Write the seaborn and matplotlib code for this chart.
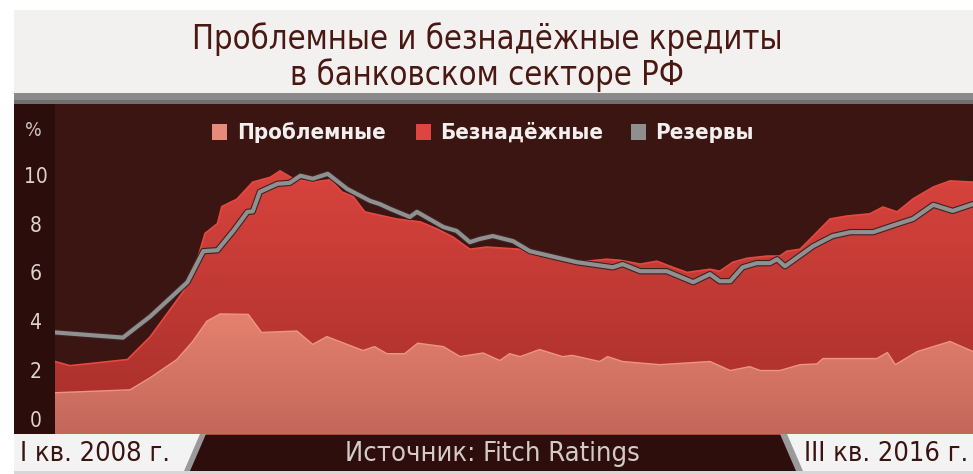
import numpy as np
import pandas as pd
import matplotlib
matplotlib.use("Agg")
import matplotlib.pyplot as plt
import seaborn as sns
from matplotlib import font_manager
from matplotlib.colors import LinearSegmentedColormap
from matplotlib.patches import Polygon, Rectangle
import matplotlib.patheffects as pe

# ---------------- data (months since January 2008) ----------------
prob_month = [0, 8.5, 10.8, 13.8, 15.6, 17.2, 18.7, 21.9, 23.4, 27.4,
              29.2, 30.8, 34.9, 36.2, 37.6, 39.6, 41.1, 44.0, 45.9, 48.5,
              50.4, 51.5, 52.7, 54.9, 57.5, 58.6, 61.7, 62.6, 64.3, 68.5,
              74.2, 76.5, 78.7, 79.9, 82.1, 84.4, 86.3, 87.0, 93.1, 94.3,
              95.2, 97.7, 101.4, 104]
prob_vals = [1.07, 1.19, 1.69, 2.43, 3.17, 4.0, 4.3, 4.28, 3.54, 3.6,
             3.05, 3.37, 2.8, 2.96, 2.67, 2.67, 3.1, 2.96, 2.55, 2.7,
             2.39, 2.67, 2.55, 2.84, 2.55, 2.6, 2.35, 2.55, 2.35, 2.22,
             2.35, 1.98, 2.14, 1.98, 1.98, 2.22, 2.25, 2.47, 2.47, 2.72,
             2.22, 2.76, 3.17, 2.76]

# total = проблемные + безнадёжные (top of the stacked area)
tot_month = [0, 1.7, 8.2, 10.8, 14.5, 16.1, 17.0, 18.4, 18.9, 20.6,
             22.4, 24.4, 25.5, 27.0, 29.2, 31.2, 32.5, 33.8, 35.1, 38.7,
             41.4, 43.3, 45.1, 47.0, 48.9, 52.7, 53.8, 59.1, 62.5, 64.0,
             66.3, 68.2, 70.0, 71.6, 74.2, 75.3, 76.8, 78.4, 80.7, 82.1,
             82.9, 84.4, 85.9, 87.8, 89.7, 92.3, 93.8, 95.4, 97.2, 99.5,
             101.4, 104]
tot_vals = [2.35, 2.18, 2.43, 3.37, 5.2, 6.5, 7.6, 8.0, 8.7, 9.0,
            9.7, 9.9, 10.16, 9.84, 9.7, 9.8, 9.3, 9.1, 8.48, 8.19,
            8.07, 7.78, 7.45, 6.95, 7.04, 6.95, 6.75, 6.42, 6.54, 6.5,
            6.34, 6.46, 6.21, 6.0, 6.13, 6.05, 6.42, 6.58, 6.67, 6.67,
            6.87, 6.95, 7.49, 8.19, 8.31, 8.4, 8.68, 8.48, 9.01, 9.5,
            9.75, 9.7]

res_month = [0, 7.7, 10.8, 15.0, 16.8, 18.4, 20.2, 21.8, 22.4, 23.2,
             25.2, 26.6, 27.8, 29.2, 30.9, 33.1, 35.7, 36.8, 38.0, 40.2,
             41.0, 44.0, 45.5, 47.0, 48.1, 49.6, 51.9, 53.8, 59.1, 63.2,
             64.3, 66.3, 69.3, 72.3, 74.2, 75.3, 76.5, 77.9, 79.5, 81.0,
             81.8, 82.7, 85.9, 88.1, 90.1, 92.7, 95.4, 97.2, 99.5, 101.7,
             104]
res_vals = [3.54, 3.33, 4.2, 5.6, 6.87, 6.91, 7.7, 8.48, 8.5, 9.3,
            9.63, 9.67, 9.96, 9.84, 10.04, 9.42, 8.93, 8.8, 8.6, 8.27,
            8.48, 7.86, 7.7, 7.24, 7.37, 7.49, 7.28, 6.87, 6.42, 6.21,
            6.34, 6.05, 6.05, 5.6, 5.93, 5.64, 5.64, 6.21, 6.38, 6.38,
            6.54, 6.25, 7.08, 7.49, 7.65, 7.65, 7.98, 8.19, 8.77, 8.52,
            8.8]

y_ticks = [0, 2, 4, 6, 8, 10]
legend_labels = ["Проблемные", "Безнадёжные", "Резервы"]
title_text = "Проблемные и безнадёжные кредиты\nв банковском секторе РФ"
left_label = "I кв. 2008 г."
right_label = "III кв. 2016 г."
source_text = "Источник: Fitch Ratings"

# ---------------- style ----------------
sns.set_theme(style="white")
names = {f.name for f in font_manager.fontManager.ttflist}
if "Liberation Sans Narrow" in names:
    FONT = ["Liberation Sans Narrow", "DejaVu Sans"]
    STRETCH = "normal"
else:
    FONT = ["DejaVu Sans"]
    STRETCH = "condensed"
plt.rcParams["font.family"] = FONT

W, H = 973, 474
fig = plt.figure(figsize=(W / 100, H / 100), dpi=100)
fig.patch.set_facecolor("white")


def fx(x):
    return x / W


def fy(y):
    return 1 - y / H


def rect(x0, y0, x1, y1, color, z=0):
    fig.add_artist(Rectangle((fx(x0), fy(y1)), fx(x1) - fx(x0), fy(y0) - fy(y1),
                             transform=fig.transFigure, facecolor=color,
                             edgecolor="none", zorder=z))


def poly(pts, color, z=1):
    fig.add_artist(Polygon([(fx(a), fy(b)) for a, b in pts], closed=True,
                           transform=fig.transFigure, facecolor=color,
                           edgecolor="none", zorder=z))


# frame panels
rect(14, 10, 973, 93, "#f3f1f0", 0)
rect(14, 93, 973, 104, "#8a8a8a", 0)
rect(14, 100, 973, 104, "#6f6f6f", 0)
rect(14, 104, 55, 434, "#2b0d0b", 0)
rect(14, 434, 973, 471, "#2e0e0c", 0)
rect(14, 471, 973, 474, "#d8d6d6", 0)
# bottom label plates
poly([(14, 434), (206, 434), (190, 471), (14, 471)], "#9a9a9a", 1)
poly([(14, 434), (200, 434), (184, 471), (14, 471)], "#f4f3f3", 2)
poly([(780, 434), (973, 434), (973, 471), (796, 471)], "#9a9a9a", 1)
poly([(787, 434), (973, 434), (973, 471), (803, 471)], "#f4f3f3", 2)

# ---------------- axes ----------------
ax = fig.add_axes([fx(55), fy(434), 1 - fx(55), fy(104) - fy(434)])
ax.set_facecolor("#3a1512")
Y0 = -0.62
ax.set_xlim(0, 104)
ax.set_ylim(Y0, 12.9)

red_cmap = LinearSegmentedColormap.from_list("r", ["#a52e2a", "#da443e"])
pink_cmap = LinearSegmentedColormap.from_list("p", ["#c3675b", "#e6826f"])

tot = ax.fill_between(tot_month, Y0, tot_vals, color="#c23a35", lw=0, zorder=1)
grad = np.linspace(0, 1, 256).reshape(-1, 1)
im1 = ax.imshow(grad, cmap=red_cmap, origin="lower", aspect="auto",
                extent=[0, 104, Y0, 10.5], zorder=1.1)
im1.set_clip_path(tot.get_paths()[0], ax.transData)
ax.plot(tot_month, tot_vals, color="#e54840", lw=1.2, zorder=1.2)

pr = ax.fill_between(prob_month, Y0, prob_vals, color="#d87565", lw=0, zorder=2)
im2 = ax.imshow(grad, cmap=pink_cmap, origin="lower", aspect="auto",
                extent=[0, 104, Y0, 4.5], zorder=2.1)
im2.set_clip_path(pr.get_paths()[0], ax.transData)
ax.plot(prob_month, prob_vals, color="#ec9585", lw=1.0, zorder=2.2)

res_df = pd.DataFrame({"month": res_month, "value": res_vals})
sns.lineplot(data=res_df, x="month", y="value", ax=ax, color="#909090",
             lw=3.0, zorder=5,
             path_effects=[pe.Stroke(linewidth=4.6, foreground="#3b2322"), pe.Normal()])

ax.set_xlabel("")
ax.set_ylabel("")
ax.set_xticks([])
ax.set_yticks(y_ticks)
ax.set_yticklabels([str(t) for t in y_ticks])
ax.tick_params(axis="y", length=0, pad=14.0, labelsize=15, labelcolor="#ddd3d1")
for lab in ax.get_yticklabels():
    lab.set_horizontalalignment("center")
    lab.set_fontstretch(STRETCH)
for s in ax.spines.values():
    s.set_visible(False)

# ---------------- texts ----------------
fig.text(fx(487), fy(57), title_text, ha="center", va="center", fontsize=23.5,
         color="#4a1712", linespacing=1.08, fontstretch=STRETCH, zorder=5)
fig.text(fx(33), fy(130), "%", ha="center", va="center", fontsize=14,
         color="#cfc4c2", fontstretch=STRETCH, zorder=5)

leg_items = [(212, 237, "#e88a79", legend_labels[0]),
             (416, 440, "#dd4640", legend_labels[1]),
             (631, 655, "#8f8f8f", legend_labels[2])]
for x0, xt, col, txt in leg_items:
    rect(x0, 124, x0 + 15, 140, col, 6)
    fig.text(fx(xt), fy(133), txt, ha="left", va="center", fontsize=16,
             color="#f4eeee", fontweight="bold", fontstretch=STRETCH, zorder=6)

fig.text(fx(20), fy(454), left_label, ha="left", va="center", fontsize=19.5,
         color="#3b1310", fontstretch=STRETCH, zorder=6)
fig.text(fx(968), fy(454), right_label, ha="right", va="center", fontsize=19.5,
         color="#3b1310", fontstretch=STRETCH, zorder=6)
fig.text(fx(492), fy(454), source_text, ha="center", va="center", fontsize=19.5,
         color="#d4cbc9", fontstretch=STRETCH, zorder=6)

fig.savefig("out.png", dpi=100, facecolor=fig.get_facecolor())
